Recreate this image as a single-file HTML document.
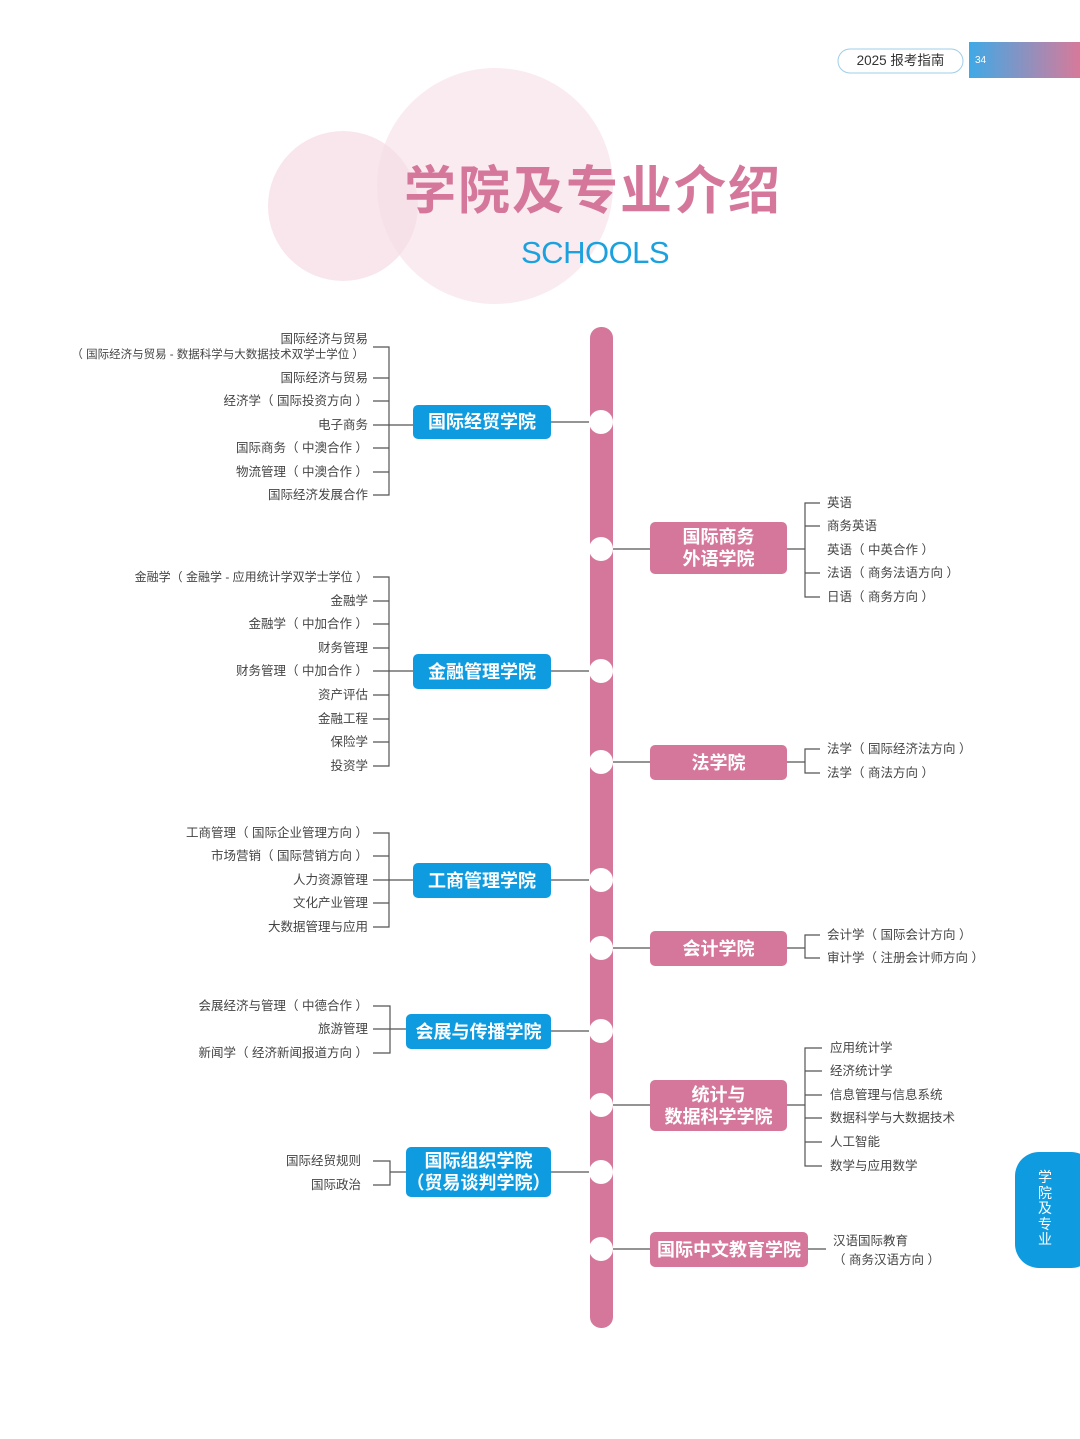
<!DOCTYPE html>
<html><head><meta charset="utf-8"><style>
*{margin:0;padding:0;box-sizing:border-box}
body{width:1080px;height:1439px;position:relative;background:#fff;overflow:hidden;font-family:"Liberation Sans","Noto Sans CJK SC",sans-serif}
.l{position:absolute;font-size:12.5px;line-height:16px;color:#444;white-space:nowrap}
.r{right:712px;text-align:right}
.box{position:absolute;color:#fff;font-weight:bold;font-size:18px;line-height:22px;text-align:center;display:flex;align-items:center;justify-content:center;border-radius:5px}
.b{background:#0f9be0}.p{background:#d5779a}
</style></head><body>
<svg width="1080" height="1439" style="position:absolute;left:0;top:0">
<circle cx="343" cy="206" r="75" fill="#f3d6e0" opacity="0.6"/>
<circle cx="495" cy="186" r="118" fill="#f7dde6" opacity="0.6"/>
<defs><linearGradient id="g" x1="0" x2="1"><stop offset="0" stop-color="#3fa9e6"/><stop offset="1" stop-color="#d77a9a"/></linearGradient></defs>
<rect x="969" y="42" width="111" height="36" fill="url(#g)"/>
<rect x="838" y="49" width="125" height="24" rx="12" fill="#fff" stroke="#9fcde8" stroke-width="1"/>
<rect x="1015" y="1152" width="80" height="116" rx="24" fill="#0f9be0"/>
<rect x="590" y="327" width="23" height="1001" rx="11" fill="#d5779a"/>
<g stroke="#555" stroke-width="1.2" fill="none">
<path d="M373 347H389V495H373M373 378H389M373 401H389M373 448H389M373 472H389M373 425H413M551 422H601"/>
<path d="M373 577H389V766H373M373 601H389M373 624H389M373 648H389M373 695H389M373 719H389M373 742H389M373 671H413M551 671H601"/>
<path d="M373 833H389V927H373M373 856H389M373 903H389M373 880H413M551 880H601"/>
<path d="M373 1006H390V1053H373M373 1029H406M551 1031H601"/>
<path d="M373 1161H390V1185H373M390 1172H406M551 1172H601"/>
<path d="M601 549H650M787 549H805M820 503H805V597H820M805 526H820M805 573H820"/>
<path d="M601 762H650M787 762H805M820 749H805V773H820"/>
<path d="M601 948H650M787 948H805M820 935H805V958H820"/>
<path d="M601 1105H650M787 1105H805M822 1048H805V1166H822M805 1071H822M805 1095H822M805 1118H822M805 1142H822"/>
<path d="M601 1249H650M808 1249H826"/>
</g>
<g fill="#fff">
<circle cx="601" cy="422" r="12"/><circle cx="601" cy="549" r="12"/><circle cx="601" cy="671" r="12"/><circle cx="601" cy="762" r="12"/><circle cx="601" cy="880" r="12"/><circle cx="601" cy="948" r="12"/><circle cx="601" cy="1031" r="12"/><circle cx="601" cy="1105" r="12"/><circle cx="601" cy="1172" r="12"/><circle cx="601" cy="1249" r="12"/>
</g>
</svg>
<div class="l" style="left:838px;top:53px;width:125px;text-align:center;font-size:13.5px;color:#333">2025 报考指南</div>
<div class="l" style="left:975px;top:53px;color:#fff;font-size:10px">34</div>
<div style="position:absolute;left:1035px;top:1170px;width:20px;color:#fff;font-size:14px;line-height:15.5px;text-align:center">学<br>院<br>及<br>专<br>业</div>
<div style="position:absolute;left:404px;top:160px;font-size:52px;line-height:64px;font-weight:bold;color:#d5779a;letter-spacing:2px">学院及专业介绍</div>
<div style="position:absolute;left:521px;top:233px;font-size:31px;line-height:40px;color:#1ba1de;letter-spacing:-0.5px">SCHOOLS</div>

<div class="l r" style="top:331px">国际经济与贸易</div>
<div class="l r" style="top:347px;right:716px;font-size:11.5px">（ 国际经济与贸易 - 数据科学与大数据技术双学士学位 ）</div>
<div class="l r" style="top:370px">国际经济与贸易</div>
<div class="l r" style="top:393px">经济学（ 国际投资方向 ）</div>
<div class="l r" style="top:417px">电子商务</div>
<div class="l r" style="top:440px">国际商务（ 中澳合作 ）</div>
<div class="l r" style="top:464px">物流管理（ 中澳合作 ）</div>
<div class="l r" style="top:487px">国际经济发展合作</div>

<div class="l r" style="top:569px;font-size:12px">金融学（ 金融学 - 应用统计学双学士学位 ）</div>
<div class="l r" style="top:593px">金融学</div>
<div class="l r" style="top:616px">金融学（ 中加合作 ）</div>
<div class="l r" style="top:640px">财务管理</div>
<div class="l r" style="top:663px">财务管理（ 中加合作 ）</div>
<div class="l r" style="top:687px">资产评估</div>
<div class="l r" style="top:711px">金融工程</div>
<div class="l r" style="top:734px">保险学</div>
<div class="l r" style="top:758px">投资学</div>

<div class="l r" style="top:825px">工商管理（ 国际企业管理方向 ）</div>
<div class="l r" style="top:848px">市场营销（ 国际营销方向 ）</div>
<div class="l r" style="top:872px">人力资源管理</div>
<div class="l r" style="top:895px">文化产业管理</div>
<div class="l r" style="top:919px">大数据管理与应用</div>

<div class="l r" style="top:998px">会展经济与管理（ 中德合作 ）</div>
<div class="l r" style="top:1021px">旅游管理</div>
<div class="l r" style="top:1045px">新闻学（ 经济新闻报道方向 ）</div>

<div class="l r" style="top:1153px;right:719px">国际经贸规则</div>
<div class="l r" style="top:1177px;right:719px">国际政治</div>

<div class="box b" style="left:413px;top:405px;width:138px;height:34px">国际经贸学院</div>
<div class="box b" style="left:413px;top:654px;width:138px;height:35px">金融管理学院</div>
<div class="box b" style="left:413px;top:863px;width:138px;height:35px">工商管理学院</div>
<div class="box b" style="left:406px;top:1014px;width:145px;height:35px">会展与传播学院</div>
<div class="box b" style="left:406px;top:1147px;width:145px;height:50px">国际组织学院<br>（贸易谈判学院）</div>

<div class="box p" style="left:650px;top:522px;width:137px;height:52px">国际商务<br>外语学院</div>
<div class="box p" style="left:650px;top:745px;width:137px;height:35px">法学院</div>
<div class="box p" style="left:650px;top:931px;width:137px;height:35px">会计学院</div>
<div class="box p" style="left:650px;top:1080px;width:137px;height:51px">统计与<br>数据科学学院</div>
<div class="box p" style="left:650px;top:1232px;width:158px;height:35px">国际中文教育学院</div>

<div class="l" style="left:827px;top:495px">英语</div>
<div class="l" style="left:827px;top:518px">商务英语</div>
<div class="l" style="left:827px;top:542px">英语（ 中英合作 ）</div>
<div class="l" style="left:827px;top:565px">法语（ 商务法语方向 ）</div>
<div class="l" style="left:827px;top:589px">日语（ 商务方向 ）</div>
<div class="l" style="left:827px;top:741px">法学（ 国际经济法方向 ）</div>
<div class="l" style="left:827px;top:765px">法学（ 商法方向 ）</div>
<div class="l" style="left:827px;top:927px">会计学（ 国际会计方向 ）</div>
<div class="l" style="left:827px;top:950px">审计学（ 注册会计师方向 ）</div>
<div class="l" style="left:830px;top:1040px">应用统计学</div>
<div class="l" style="left:830px;top:1063px">经济统计学</div>
<div class="l" style="left:830px;top:1087px">信息管理与信息系统</div>
<div class="l" style="left:830px;top:1110px">数据科学与大数据技术</div>
<div class="l" style="left:830px;top:1134px">人工智能</div>
<div class="l" style="left:830px;top:1158px">数学与应用数学</div>
<div class="l" style="left:833px;top:1233px">汉语国际教育</div>
<div class="l" style="left:833px;top:1252px">（ 商务汉语方向 ）</div>
</body></html>
